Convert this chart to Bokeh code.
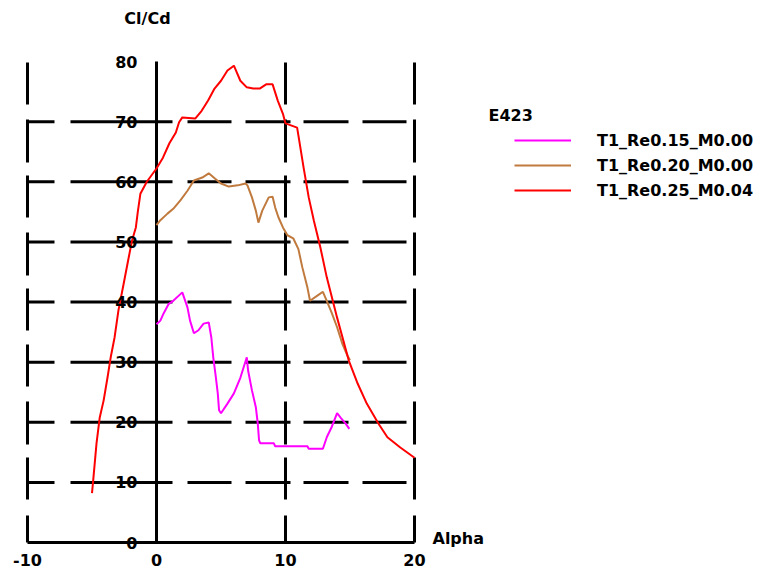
from bokeh.plotting import figure
from bokeh.models import Range1d, Legend, LegendItem, Label
from bokeh.core.properties import value
from bokeh.embed import file_html
from bokeh.resources import INLINE

# ---------------- data ----------------
alpha_re015 = [0.0, 0.3, 0.55, 0.95, 1.3, 1.75, 2.0, 2.4, 2.6, 2.9, 3.25, 3.65, 4.05, 4.25,
               4.4, 4.6, 4.75, 4.85, 5.0, 5.5, 6.0, 6.5, 7.0, 7.1, 7.4, 7.7, 7.85, 7.95,
               8.05, 9.1, 9.2, 11.7, 11.8, 12.9, 13.2, 13.6, 14.0, 14.3, 14.65, 14.95]
clcd_re015 = [36.3, 36.9, 38.1, 39.7, 40.2, 41.1, 41.6, 39.1, 36.9, 34.8, 35.3, 36.4, 36.6, 34.1,
              30.8, 27.5, 24.8, 22.0, 21.5, 23.1, 24.8, 27.4, 30.8, 28.6, 25.3, 22.5, 19.8, 17.0,
              16.5, 16.5, 16.0, 16.0, 15.6, 15.6, 17.5, 19.3, 21.5, 20.7, 19.8, 18.9]

alpha_re020 = [0.0, 0.3, 0.85, 1.3, 1.85, 2.4, 2.9, 3.55, 4.05, 4.55, 5.0, 5.6, 6.3, 6.9, 7.05,
               7.4, 7.7, 7.9, 8.2, 8.7, 9.0, 9.2, 9.45, 9.8, 10.15, 10.6, 11.0, 11.3, 11.7, 11.9,
               12.5, 12.9, 13.2, 13.6, 14.0, 14.4, 14.8, 15.0]
clcd_re020 = [52.8, 53.6, 54.7, 55.5, 56.9, 58.5, 60.2, 60.7, 61.4, 60.5, 59.7, 59.2, 59.4, 59.7, 59.4,
              57.4, 55.2, 53.2, 55.2, 57.4, 57.5, 55.7, 54.1, 52.4, 51.1, 50.6, 48.8, 45.8, 42.4, 40.2,
              41.1, 41.7, 40.2, 38.1, 35.8, 33.1, 31.1, 30.3]

alpha_re025 = [-5.0, -4.9, -4.65, -4.4, -4.1, -3.8, -3.55, -3.25, -2.95, -2.55, -2.2, -1.9, -1.6,
               -1.45, -1.25, -0.75, 0.0, 0.5, 1.0, 1.5, 1.75, 2.0, 3.0, 3.5, 4.0, 4.5, 5.0, 5.5,
               6.0, 6.5, 7.0, 7.5, 8.0, 8.5, 9.0, 9.4, 9.8, 10.0, 10.9, 11.0, 11.4, 11.8, 12.2,
               12.7, 13.2, 14.0, 14.9, 15.6, 16.3, 17.2, 17.9, 18.9, 20.0]
clcd_re025 = [8.2, 10.5, 16.5, 20.8, 23.6, 27.4, 30.8, 34.1, 38.6, 43.0, 46.9, 50.2, 52.4,
              55.0, 58.0, 60.0, 62.2, 64.0, 66.4, 68.2, 69.9, 70.7, 70.5, 71.8, 73.5, 75.5, 76.8, 78.5,
              79.3, 76.8, 75.7, 75.5, 75.5, 76.2, 76.2, 73.5, 71.3, 69.7, 69.0, 67.7, 62.4, 57.4, 53.5,
              49.1, 44.1, 37.4, 30.3, 26.4, 23.1, 19.8, 17.5, 15.8, 14.1]

series_names = ["T1_Re0.15_M0.00", "T1_Re0.20_M0.00", "T1_Re0.25_M0.04"]
series_colors = ["#ff00ff", "#c07a3e", "#ff0000"]
legend_title = "E423"

x_ticks = [-10, 0, 10, 20]
y_ticks = [0, 10, 20, 30, 40, 50, 60, 70, 80]
x_label = "Alpha"
y_label = "Cl/Cd"

# ---------------- layout ----------------
W, H = 754, 570
X0_PX, PX_PER_X = 156.0, 12.9      # screen x of alpha = 0, pixels per degree
Y0_PX, PX_PER_Y = 542.0, 6.0125    # screen y of Cl/Cd = 0, pixels per unit

x_range = Range1d(-X0_PX / PX_PER_X, (W - X0_PX) / PX_PER_X)
y_range = Range1d(-(H - Y0_PX) / PX_PER_Y, Y0_PX / PX_PER_Y)

p = figure(width=W, height=H, x_range=x_range, y_range=y_range,
           output_backend="svg", toolbar_location=None,
           x_axis_location=None, y_axis_location=None,
           min_border=0, outline_line_color=None)
p.grid.visible = False
p.background_fill_color = "white"
p.border_fill_color = "white"

FONT = "DejaVu Sans"
xmin, xmax = x_ticks[0], x_ticks[-1]
ymin, ymax = y_ticks[0], y_ticks[-1]

# dashed horizontal grid lines
hg = [t for t in y_ticks if t not in (ymin, ymax)]
p.segment(x0=[xmin] * len(hg), y0=hg, x1=[xmax] * len(hg), y1=hg,
          line_color="black", line_width=3,
          line_dash="27 16 102 15 44 14 45 13 45 14 44 20")
# dashed vertical grid lines
vg = [t for t in x_ticks if t != 0]
p.segment(x0=vg, y0=[ymin] * len(vg), x1=vg, y1=[ymax] * len(vg),
          line_color="black", line_width=3,
          line_dash="27 16 42 13 43 15 42 14 42 13 43 15 42 13 43 15 42")
# solid axes
p.segment(x0=[xmin], y0=[0], x1=[xmax], y1=[0], line_color="black", line_width=3)
p.segment(x0=[0], y0=[ymin], x1=[0], y1=[ymax], line_color="black", line_width=3)

# curves
renderers = []
for xs, ys, c in [(alpha_re015, clcd_re015, series_colors[0]),
                  (alpha_re020, clcd_re020, series_colors[1]),
                  (alpha_re025, clcd_re025, series_colors[2])]:
    renderers.append(p.line(xs, ys, line_color=c, line_width=2))

# tick labels
p.text(x=[0] * len(y_ticks), y=y_ticks, text=[str(t) for t in y_ticks],
       x_offset=-19, text_align="right", text_baseline="middle",
       text_font=value(FONT), text_font_style="bold", text_font_size="16px",
       text_color="black")
p.text(x=x_ticks, y=[0] * len(x_ticks), text=[str(t) for t in x_ticks],
       y_offset=17, text_align="center", text_baseline="middle",
       text_font=value(FONT), text_font_style="bold", text_font_size="16px",
       text_color="black")
# axis titles
p.text(x=[0], y=[ymax], text=[y_label], x_offset=-9, y_offset=-43,
       text_align="center", text_baseline="middle",
       text_font=value(FONT), text_font_style="bold", text_font_size="16px",
       text_color="black")
p.text(x=[xmax], y=[0], text=[x_label], x_offset=18, y_offset=-4,
       text_align="left", text_baseline="middle",
       text_font=value(FONT), text_font_style="bold", text_font_size="16px",
       text_color="black")

# legend
legend = Legend(items=[LegendItem(label=n, renderers=[r]) for n, r in zip(series_names, renderers)],
                location=(514, 370), orientation="vertical",
                border_line_color=None, background_fill_alpha=0,
                padding=0, margin=0, spacing=5,
                glyph_width=57, glyph_height=20, label_height=20, label_standoff=26,
                label_text_font=FONT, label_text_font_style="bold",
                label_text_font_size="16px", label_text_color="black")
p.add_layout(legend)
p.add_layout(Label(x=488, y=455, x_units="screen", y_units="screen", text=legend_title,
                   text_font=FONT, text_font_style="bold", text_font_size="16px",
                   text_baseline="middle", text_color="black"))

open("out.html", "w").write(file_html(p, INLINE))
